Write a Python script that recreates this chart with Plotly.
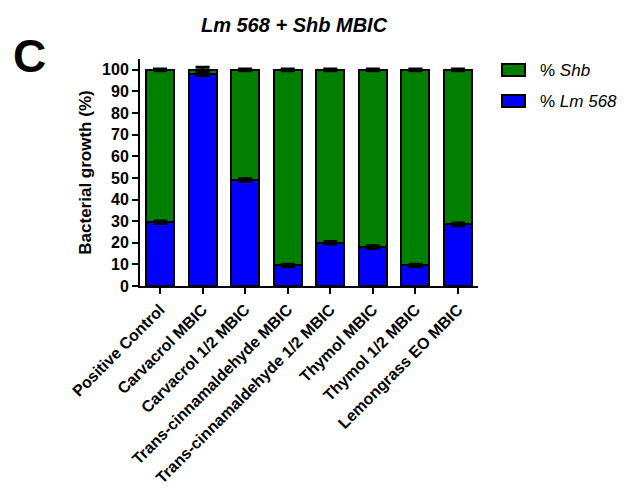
import plotly.graph_objects as go

# Treatments on the x axis
categories = [
    "Positive Control",
    "Carvacrol MBIC",
    "Carvacrol 1/2 MBIC",
    "Trans-cinnamaldehyde MBIC",
    "Trans-cinnamaldehyde 1/2 MBIC",
    "Thymol MBIC",
    "Thymol 1/2 MBIC",
    "Lemongrass EO MBIC",
]

# Share of each species in the mixed biofilm (%)
lm568_pct = [29.5, 98.0, 49.0, 9.5, 20.0, 18.0, 9.5, 28.5]
shb_pct = [70.5, 2.0, 51.0, 90.5, 80.0, 82.0, 90.5, 71.5]

# Standard deviations shown as error bars
lm568_err = [0.6, 0.6, 0.6, 0.6, 0.6, 0.6, 0.6, 0.6]
shb_err = [0.4, 1.2, 0.4, 0.4, 0.4, 0.4, 0.4, 0.4]

y_ticks = [0, 10, 20, 30, 40, 50, 60, 70, 80, 90, 100]

series_names = ["% <i>Shb</i>", "% <i>Lm 568</i>"]

BLUE = "#0000ff"
GREEN = "#007f00"
FONT = "Arial, Liberation Sans, sans-serif"

# plot area in pixels (for placing the hand-drawn legend)
L, R, T, B = 140, 148, 59, 212
PW, PH = 626 - L - R, 498 - T - B


def px_x(px):
    return (px - L) / PW


def px_y(py):
    return 1 - (py - T) / PH


fig = go.Figure()

fig.add_trace(go.Bar(
    x=categories, y=lm568_pct, name=series_names[1],
    marker=dict(color=BLUE, line=dict(color="black", width=2)),
    width=0.66, showlegend=False,
))
fig.add_trace(go.Bar(
    x=categories, y=shb_pct, name=series_names[0],
    marker=dict(color=GREEN, line=dict(color="black", width=2)),
    width=0.66, showlegend=False,
))

# Error bars placed at the top of each stacked segment
tops_lm = list(lm568_pct)
tops_all = [a + b for a, b in zip(lm568_pct, shb_pct)]
for tops, errs in ((tops_lm, lm568_err), (tops_all, shb_err)):
    fig.add_trace(go.Scatter(
        x=categories, y=tops, mode="markers",
        marker=dict(size=0.1, color="rgba(0,0,0,0)"),
        error_y=dict(type="data", array=errs, symmetric=True,
                     color="black", thickness=3, width=7),
        showlegend=False, hoverinfo="skip",
    ))

fig.update_layout(
    width=626, height=498,
    barmode="stack",
    plot_bgcolor="white", paper_bgcolor="white",
    margin=dict(l=L, r=R, t=T, b=B),
    font=dict(family=FONT, color="black", size=16),
    title=dict(text="<b><i>Lm 568 + Shb MBIC</i></b>",
               x=294 / 626, xanchor="center", y=1 - 25 / 498, yanchor="middle",
               font=dict(size=20, family=FONT)),
    showlegend=False,
)

fig.update_xaxes(
    range=[-0.47, 7.47], showline=True, linecolor="black", linewidth=2,
    ticks="outside", ticklen=6, tickwidth=2, tickcolor="black",
    tickangle=-45, tickfont=dict(size=16, family=FONT, weight="bold"),
    showgrid=False, zeroline=False,
)
fig.update_yaxes(
    range=[0, 105], tickvals=y_ticks, showline=True, linecolor="black", linewidth=2,
    ticks="outside", ticklen=6, tickwidth=2, tickcolor="black",
    tickfont=dict(size=16, family=FONT, weight="bold"),
    title=dict(text="<b>Bacterial growth (%)</b>",
               font=dict(size=17, family=FONT, weight="bold"), standoff=6),
    showgrid=False, zeroline=False,
)

# Panel letter
fig.add_annotation(
    text="<b>C</b>", xref="paper", yref="paper",
    x=px_x(29), y=px_y(56),
    xanchor="center", yanchor="middle", showarrow=False,
    font=dict(size=46, family=FONT, color="black"),
)

# Legend: swatch + label for each series
legend_rows = [(series_names[0], GREEN, 70), (series_names[1], BLUE, 101)]
for name, color, cy in legend_rows:
    fig.add_shape(
        type="rect", xref="paper", yref="paper",
        x0=px_x(502), x1=px_x(525), y0=px_y(cy - 6), y1=px_y(cy + 6),
        fillcolor=color, line=dict(color="black", width=2),
    )
    fig.add_annotation(
        text=name, xref="paper", yref="paper",
        x=px_x(538), y=px_y(cy), xanchor="left", yanchor="middle",
        showarrow=False, font=dict(size=17, family=FONT, color="black"),
    )

fig.write_html("out.html")
